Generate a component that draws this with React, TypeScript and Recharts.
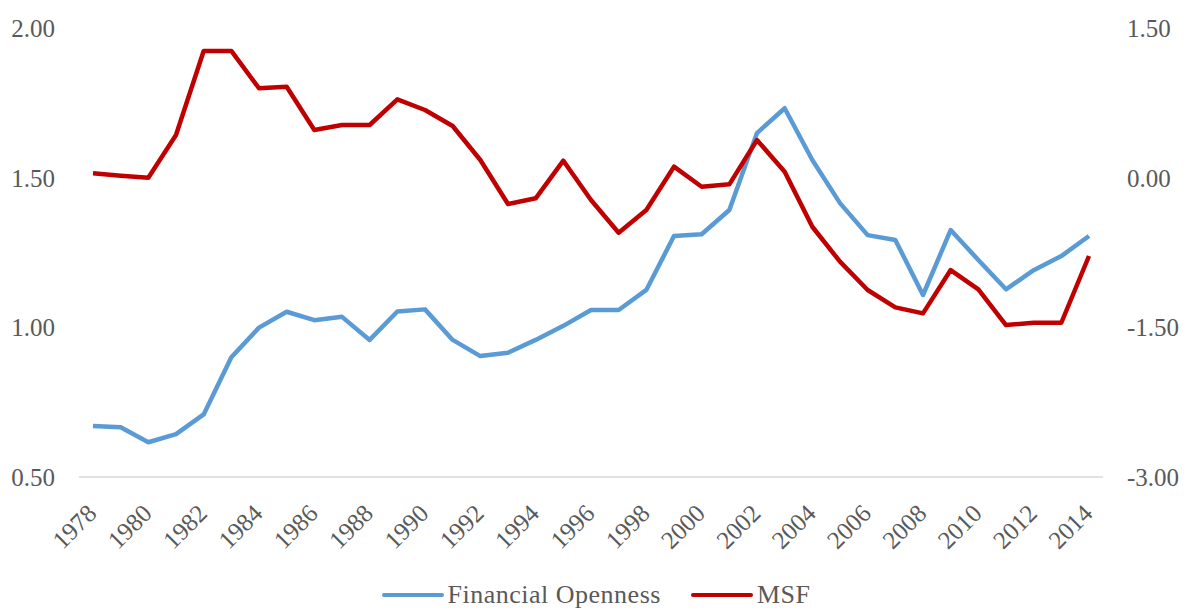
import { LineChart, Line, XAxis, YAxis, Legend } from 'recharts'

const years = [
  '1978', '1979', '1980', '1981', '1982', '1983', '1984', '1985', '1986', '1987',
  '1988', '1989', '1990', '1991', '1992', '1993', '1994', '1995', '1996', '1997',
  '1998', '1999', '2000', '2001', '2002', '2003', '2004', '2005', '2006', '2007',
  '2008', '2009', '2010', '2011', '2012', '2013', '2014',
]

const financialOpenness = [
  0.67, 0.666, 0.616, 0.643, 0.709, 0.9, 0.999, 1.052, 1.024, 1.035,
  0.958, 1.053, 1.06, 0.958, 0.904, 0.915, 0.958, 1.005, 1.058, 1.058,
  1.125, 1.305, 1.311, 1.392, 1.649, 1.732, 1.559, 1.415, 1.308, 1.292,
  1.108, 1.325, 1.225, 1.127, 1.191, 1.238, 1.305,
]

const msf = [
  0.044, 0.02, 0.0, 0.428, 1.27, 1.27, 0.896, 0.912, 0.478, 0.528,
  0.528, 0.785, 0.678, 0.518, 0.177, -0.264, -0.207, 0.17, -0.224, -0.552,
  -0.324, 0.11, -0.091, -0.067, 0.377, 0.06, -0.492, -0.842, -1.126, -1.3,
  -1.36, -0.926, -1.119, -1.477, -1.454, -1.454, -0.785,
]

const leftTicks = [0.5, 1.0, 1.5, 2.0]
const rightTicks = [-3.0, -1.5, 0.0, 1.5]

const data = years.map((year, i) => ({
  year,
  fo: financialOpenness[i],
  msf: msf[i],
}))

const FONT = '"Liberation Serif", "Times New Roman", serif'
const TEXT = '#595959'
const BLUE = '#5B9BD5'
const RED = '#C00000'

// rotated year labels, ending just right of the tick
function YearTick(props: any) {
  const { x, y, payload } = props
  const tx = x + 5
  const ty = y + 30
  return (
    <text
      x={tx}
      y={ty}
      transform={`rotate(-45, ${tx}, ${ty})`}
      textAnchor="end"
      fill={TEXT}
      fontSize={25}
      fontFamily={FONT}
    >
      {payload.value}
    </text>
  )
}

function ChartLegend() {
  const items = [
    { label: 'Financial Openness', color: BLUE },
    { label: 'MSF', color: RED },
  ]
  return (
    <div
      style={{
        height: 48,
        display: 'flex',
        justifyContent: 'center',
        alignItems: 'flex-end',
        gap: 30,
        fontFamily: FONT,
        fontSize: 26,
        color: TEXT,
        paddingBottom: 1,
        boxSizing: 'border-box',
      }}
    >
      {items.map((it) => (
        <div key={it.label} style={{ display: 'flex', alignItems: 'center', height: 28 }}>
          <span
            style={{
              display: 'inline-block',
              width: 62,
              height: 4,
              borderRadius: 2,
              background: it.color,
              marginRight: 4,
            }}
          />
          <span style={{ lineHeight: '28px', letterSpacing: 0.5 }}>{it.label}</span>
        </div>
      ))}
    </div>
  )
}

export default function App() {
  return (
    <div style={{ width: 1192, height: 610, background: '#fff' }}>
      <style>{`body{margin:0;}`}</style>
      <LineChart
        width={1192}
        height={610}
        data={data}
        margin={{ top: 28, right: 0, bottom: 0, left: 0 }}
      >
        <XAxis
          dataKey="year"
          interval={1}
          padding={{ left: 14, right: 14 }}
          tickLine={false}
          axisLine={{ stroke: '#D9D9D9', strokeWidth: 1.5 }}
          height={85}
          tick={<YearTick />}
        />
        <YAxis
          yAxisId="left"
          orientation="left"
          domain={[0.5, 2.0]}
          ticks={leftTicks}
          width={79}
          axisLine={false}
          tickLine={false}
          tickMargin={18}
          tickFormatter={(v: number) => v.toFixed(2)}
          tick={{ fill: TEXT, fontSize: 25, fontFamily: FONT }}
        />
        <YAxis
          yAxisId="right"
          orientation="right"
          domain={[-3.0, 1.5]}
          ticks={rightTicks}
          width={89}
          axisLine={false}
          tickLine={false}
          tickMargin={18}
          tickFormatter={(v: number) => v.toFixed(2)}
          tick={{ fill: TEXT, fontSize: 25, fontFamily: FONT }}
        />
        <Legend verticalAlign="bottom" content={<ChartLegend />} />
        <Line
          yAxisId="left"
          type="linear"
          dataKey="fo"
          name="Financial Openness"
          stroke={BLUE}
          strokeWidth={4.5}
          strokeLinejoin="round"
          dot={false}
          isAnimationActive={false}
        />
        <Line
          yAxisId="right"
          type="linear"
          dataKey="msf"
          name="MSF"
          stroke={RED}
          strokeWidth={4.5}
          strokeLinejoin="round"
          dot={false}
          isAnimationActive={false}
        />
      </LineChart>
    </div>
  )
}
